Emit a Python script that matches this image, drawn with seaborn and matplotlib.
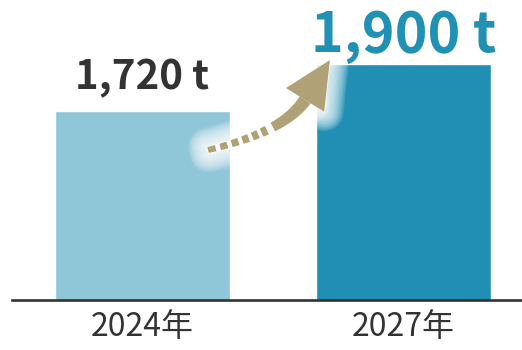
import numpy as np
import pandas as pd
import matplotlib
matplotlib.use("Agg")
import matplotlib.pyplot as plt
import seaborn as sns
from matplotlib.patches import Polygon
from matplotlib.transforms import IdentityTransform
import matplotlib.patheffects as pe

# Data
years = ["2024年", "2027年"]
volumes = [1720, 1900]
value_labels = ["1,720 t", "1,900 t"]

bar_colors = ["#8fc6d8", "#208fb3"]
label_colors = ["#333333", "#2190b5"]
label_sizes = [29, 40]
label_offsets = [16, 8.5]   # points above bar top
arrow_color = "#b0a276"
text_color = "#333333"

sns.set_theme(style="white")
plt.rcParams["font.family"] = ["Noto Sans CJK JP", "DejaVu Sans"]

fig = plt.figure(figsize=(5.22, 3.5), dpi=100)
ax = fig.add_axes([12 / 522, 50 / 350, 510 / 522, 300 / 350])

df = pd.DataFrame({"year": years, "volume": volumes})
sns.barplot(data=df, x="year", y="volume", hue="year", palette=bar_colors,
            width=0.67, legend=False, ax=ax, saturation=1)

ax.set_ylim(1000, 2144)
ax.set_xlim(-0.5, 1.454)
ax.set_xlabel("")
ax.set_ylabel("")
ax.set_yticks([])
for s in ["top", "right", "left"]:
    ax.spines[s].set_visible(False)
ax.spines["bottom"].set_color("#333333")
ax.spines["bottom"].set_linewidth(1.9)
ax.tick_params(axis="x", length=0, pad=8, labelsize=23, labelcolor=text_color)

# Value labels above bars
for i, (v, lab) in enumerate(zip(volumes, value_labels)):
    ax.annotate(lab, xy=(i, v), xytext=(0, label_offsets[i]),
                textcoords="offset points", ha="center", va="baseline",
                fontsize=label_sizes[i], fontweight="bold",
                color=label_colors[i], zorder=6)

# Growth arrow: quadratic curve from the first bar toward the top of the second
fig.canvas.draw()
to_px = ax.transData.transform
start = to_px((0.251, 1572))
ctrl = to_px((0.54, 1640))
base = to_px((0.623, 1763))
tip = to_px((0.718, 1915))


def curve(t):
    t = np.asarray(t)[:, None]
    return (1 - t) ** 2 * start + 2 * (1 - t) * t * ctrl + t ** 2 * base


def tangent(t):
    t = np.asarray(t)[:, None]
    return 2 * (1 - t) * (ctrl - start) + 2 * t * (base - ctrl)


def band(t0, t1, w0=6.0, w1=13.0, n=30):
    ts = np.linspace(t0, t1, n)
    p = curve(ts)
    d = tangent(ts)
    d = d / np.linalg.norm(d, axis=1)[:, None]
    nrm = np.column_stack([-d[:, 1], d[:, 0]])
    w = (w0 + (w1 - w0) * ts)[:, None] / 2
    return np.vstack([p + nrm * w, (p - nrm * w)[::-1]])


def head(hw=45.0):
    d = tip - base
    d = d / np.linalg.norm(d)
    nrm = np.array([-d[1], d[0]])
    return np.array([base + nrm * hw / 2, tip, base - nrm * hw / 2])


ident = IdentityTransform()


def add_shape(xy, **kw):
    p = Polygon(xy, closed=True, transform=ident, clip_on=False, **kw)
    ax.add_patch(p)
    return p


# soft white halo behind the whole arrow
halo = [pe.Stroke(linewidth=w, foreground="white", alpha=0.12,
                  joinstyle="round", capstyle="round")
        for w in range(28, 2, -2)] + [pe.Normal()]
for shape in [band(0, 1.0), head()]:
    add_shape(shape, facecolor="white", edgecolor="white", lw=1,
              joinstyle="round", path_effects=halo, zorder=3)

# dashed tail
n_dash = 6
t_split = 0.5
step = t_split / n_dash
for k in range(n_dash):
    t0 = k * step
    t1 = t0 + step * 0.62
    add_shape(band(t0, t1, n=6), facecolor=arrow_color, edgecolor="none", zorder=4)

# solid shaft and head
add_shape(band(t_split + 0.03, 1.0), facecolor=arrow_color, edgecolor="none", zorder=4)
add_shape(head(), facecolor=arrow_color, edgecolor="none", zorder=4)

fig.savefig("out.png", dpi=100)
